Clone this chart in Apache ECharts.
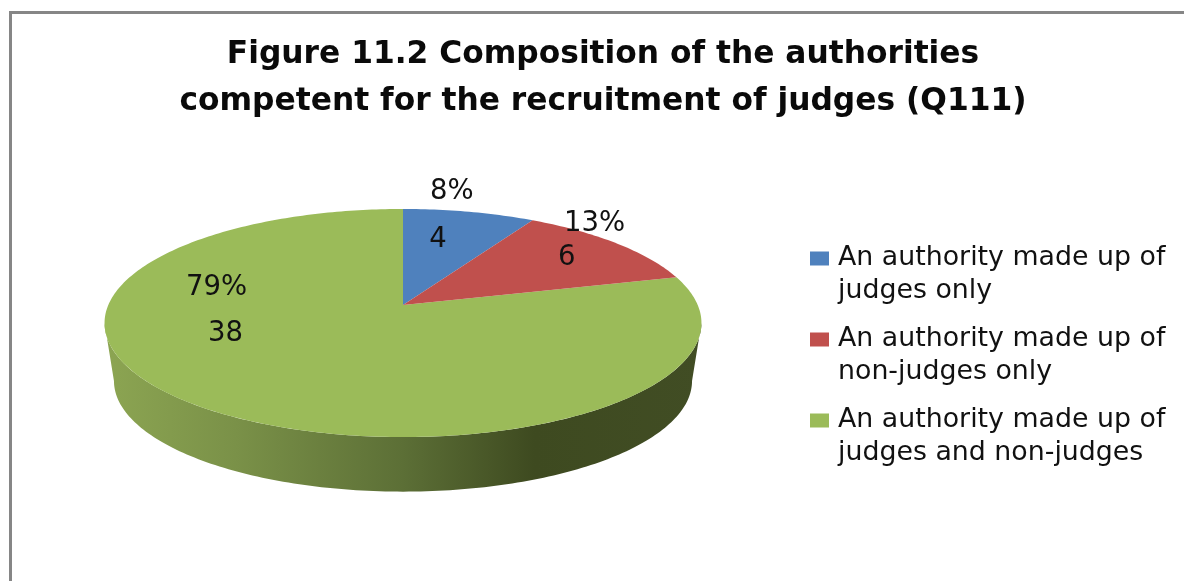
<!DOCTYPE html>
<html>
<head>
<meta charset="utf-8">
<style>html,body{margin:0;padding:0;background:#fff}#c{width:1184px;height:581px}</style>
<script src="https://cdn.jsdelivr.net/npm/echarts@6/dist/echarts.min.js"></script>
</head>
<body>
<div id="c"></div>
<script>
const titleLines = ['Figure 11.2 Composition of the authorities', 'competent for the recruitment of judges (Q111)'];
const categories = ['An authority made up of\njudges only', 'An authority made up of\nnon-judges only', 'An authority made up of\njudges and non-judges'];
const values = [4, 6, 38];
const colors = ['#4f81bd', '#c0504d', '#9bbb59'];

// Layout of the tilted disc (perspective projection of a circle)
const FONT = '"DejaVu Sans", sans-serif';
const top3d = {cx: 403, cy: 305, D: 294.7, A: 111.2, c: 0.158};
const bottom3d = {cx: 403, cy: 363.5, D: 285.4, A: 107.9, c: 0.158};
const valueOffsets = [[-7, -6], [31, -9], [-61, -28]];
const percentOffsets = [[7, -54], [59, -43], [-70, -74]];

const total = values.reduce((a, b) => a + b, 0);
const rad = d => d * Math.PI / 180;
function project(g, deg, r) {
  const u = Math.sin(rad(deg)) * r, v = Math.cos(rad(deg)) * r, w = 1 + g.c * v;
  return [g.cx + g.D * u / w, g.cy - g.A * v / w];
}
function arc(g, from, to) {
  const pts = [], n = Math.max(2, Math.ceil(Math.abs(to - from)));
  for (let i = 0; i <= n; i++) pts.push(project(g, from + (to - from) * i / n, 1));
  return pts;
}
const visFrom = Math.acos(-top3d.c) * 180 / Math.PI, visTo = 360 - visFrom;

function makeRender(idx) {
  return function (params, api) {
    const value = api.value(0);
    const before = values.slice(0, idx).reduce((a, b) => a + b, 0);
    const start = before / total * 360, end = (before + value) / total * 360, mid = (start + end) / 2;
    const children = [];
    const sFrom = Math.max(start, visFrom), sTo = Math.min(end, visTo);
    if (sTo > sFrom) {
      children.push({
        type: 'polygon', z2: 1,
        shape: {points: arc(top3d, sFrom, sTo).concat(arc(bottom3d, sFrom, sTo).reverse())},
        style: {fill: new echarts.graphic.LinearGradient(0, 0, 1, 0, [
          {offset: 0, color: '#8ca552'}, {offset: 0.22, color: '#7a9148'},
          {offset: 0.5, color: '#5c6f36'}, {offset: 0.72, color: '#3e4a20'},
          {offset: 1, color: '#414d24'}
        ])}
      });
    }
    children.push({
      type: 'polygon', z2: 2,
      shape: {points: [[top3d.cx, top3d.cy]].concat(arc(top3d, start, end))},
      style: {fill: colors[idx]}
    });
    const anchor = project(top3d, mid, 0.6);
    const text = (str, off) => ({
      type: 'text', z2: 10,
      style: {
        x: anchor[0] + off[0], y: anchor[1] + off[1], text: str, fill: '#111',
        font: '27.5px ' + FONT, align: 'center', verticalAlign: 'middle'
      }
    });
    children.push(text(String(value), valueOffsets[idx]));
    children.push(text(Math.round(value / total * 100) + '%', percentOffsets[idx]));
    return {type: 'group', children};
  };
}

const chart = echarts.init(document.getElementById('c'), null, {renderer: 'canvas'});
chart.setOption({
  animation: false,
  backgroundColor: '#fff',
  title: {
    text: titleLines.join('\n'),
    left: 603, top: 31, textAlign: 'center', padding: 0,
    textStyle: {fontFamily: FONT, fontWeight: 'bold', fontSize: 31.3, lineHeight: 47, color: '#0a0a0a'}
  },
  legend: {
    orient: 'vertical', left: 810, top: 209, padding: 0, itemGap: -18,
    itemWidth: 19, itemHeight: 14, icon: 'rect', selectedMode: false,
    data: categories,
    formatter: name => ' \n' + name,
    textStyle: {fontFamily: FONT, fontSize: 26.8, lineHeight: 33, color: '#111', padding: [0, 0, 0, 4]}
  },
  graphic: [{
    type: 'polyline', silent: true, z: -1,
    shape: {points: [[10.5, 600], [10.5, 12.5], [1200, 12.5]]},
    style: {stroke: '#868686', lineWidth: 3, fill: null}
  }],
  series: values.map((v, i) => ({
    type: 'custom', name: categories[i], coordinateSystem: 'none',
    itemStyle: {color: colors[i]},
    renderItem: makeRender(i),
    data: [[v]],
    z: i === 2 ? 1 : 2
  }))
});
</script>
</body>
</html>
